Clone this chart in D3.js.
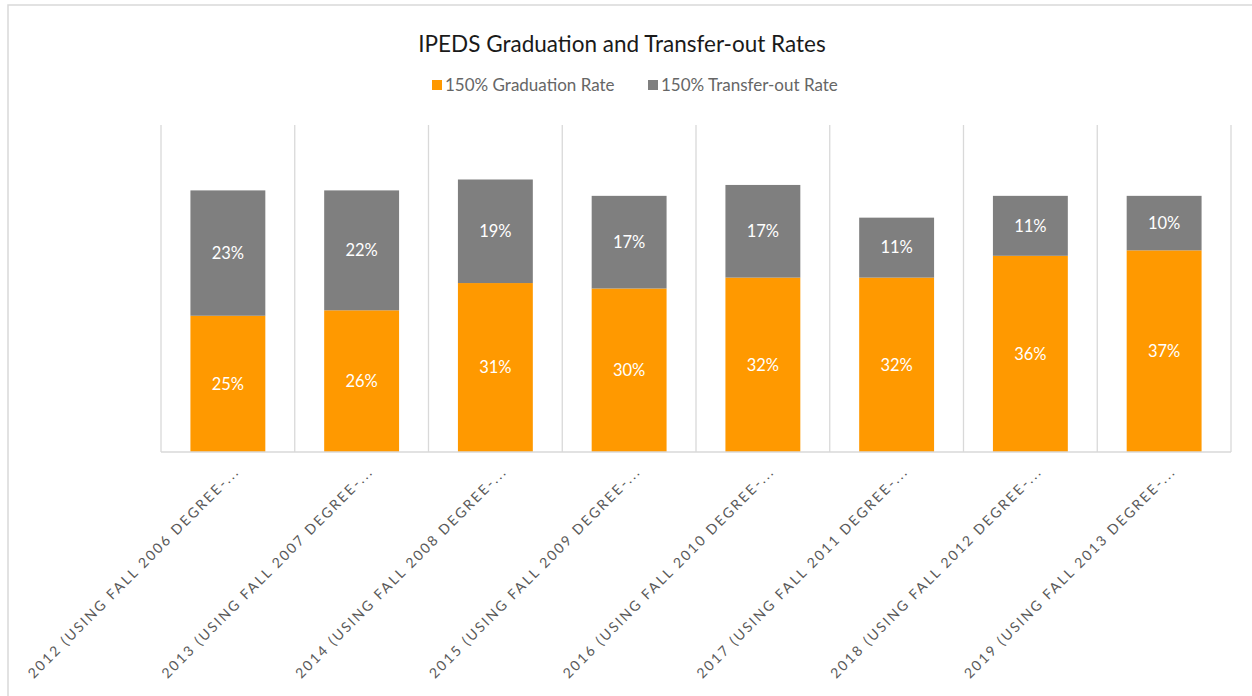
<!DOCTYPE html>
<html>
<head>
<meta charset="utf-8">
<script src="https://cdn.jsdelivr.net/npm/d3@7"></script>
<style>
  body { margin: 0; background: white; }
  svg { display: block; font-family: Lato, "Open Sans", sans-serif; }
</style>
</head>
<body>
<div id="chart"></div>
<script>
// category labels as shown (truncated by the original chart)
let categories = [
  "2012 (USING FALL 2006 DEGREE-...",
  "2013 (USING FALL 2007 DEGREE-...",
  "2014 (USING FALL 2008 DEGREE-...",
  "2015 (USING FALL 2009 DEGREE-...",
  "2016 (USING FALL 2010 DEGREE-...",
  "2017 (USING FALL 2011 DEGREE-...",
  "2018 (USING FALL 2012 DEGREE-...",
  "2019 (USING FALL 2013 DEGREE-..."
];
let gradRate = [0.25, 0.26, 0.31, 0.30, 0.32, 0.32, 0.36, 0.37];
let transferRate = [0.23, 0.22, 0.19, 0.17, 0.17, 0.11, 0.11, 0.10];
let seriesNames = ["150% Graduation Rate", "150% Transfer-out Rate"];
let seriesColors = ["#FF9900", "#7F7F7F"];

let width = 1252, height = 696;
let plot = {left: 161, right: 1231, top: 125, bottom: 452};

let svg = d3.select('#chart').append('svg')
    .attr('width', width)
    .attr('height', height);

// outer chart border
svg.append('rect')
    .attr('x', 8).attr('y', 5)
    .attr('width', width + 20).attr('height', height + 20)
    .attr('fill', 'white')
    .attr('stroke', '#d9d9d9')
    .attr('stroke-width', 1.5);

let x = d3.scaleBand()
    .domain(categories)
    .range([plot.left, plot.right])
    .paddingInner(0.44)
    .paddingOuter(0.22);

let y = d3.scaleLinear()
    .domain([0, 0.6])
    .range([plot.bottom, plot.top]);

// vertical gridlines between categories
let gridX = d3.range(categories.length + 1).map(i => plot.left + i * (plot.right - plot.left) / categories.length);
svg.append('g').selectAll('line')
    .data(gridX)
    .join('line')
    .attr('x1', d => d).attr('x2', d => d)
    .attr('y1', plot.top).attr('y2', plot.bottom)
    .attr('stroke', '#d9d9d9')
    .attr('stroke-width', 1.3);

let stackData = categories.map((c, i) => ({cat: c, grad: gradRate[i], transfer: transferRate[i]}));
let stack = d3.stack().keys(['grad', 'transfer']);
let layers = stack(stackData);

let g = svg.append('g');
layers.forEach(function(layer, li){
    g.append('g').selectAll('rect')
        .data(layer)
        .join('rect')
        .attr('x', d => x(d.data.cat))
        .attr('width', x.bandwidth())
        .attr('y', d => y(d[1]))
        .attr('height', d => y(d[0]) - y(d[1]))
        .attr('fill', seriesColors[li]);

    g.append('g').selectAll('text')
        .data(layer)
        .join('text')
        .attr('x', d => x(d.data.cat) + x.bandwidth() / 2)
        .attr('y', d => (y(d[0]) + y(d[1])) / 2)
        .attr('dy', '0.35em')
        .attr('text-anchor', 'middle')
        .attr('fill', 'white')
        .attr('font-size', 16.5)
        .text(d => Math.round((d[1] - d[0]) * 100) + '%');
});

// category axis
let axis = svg.append('g')
    .attr('transform', `translate(0,${plot.bottom})`)
    .call(d3.axisBottom(x).tickSize(0).tickPadding(0));
axis.select('.domain')
    .attr('d', `M${plot.left},0H${plot.right}`)
    .attr('stroke', '#d9d9d9')
    .attr('stroke-width', 1.3);
axis.selectAll('.tick text')
    .attr('transform', 'translate(9,17) rotate(-45)')
    .attr('text-anchor', 'end')
    .attr('dy', '0.35em')
    .attr('fill', '#595959')
    .attr('font-size', 14)
    .attr('font-family', 'Lato, sans-serif')
    .style('letter-spacing', '2.1px');

// title
svg.append('text')
    .attr('x', 622).attr('y', 52)
    .attr('text-anchor', 'middle')
    .attr('font-size', 22.5)
    .attr('fill', '#1a1a1a')
    .text('IPEDS Graduation and Transfer-out Rates');

// legend
let legendX = [432, 648];
let legend = svg.append('g').selectAll('g')
    .data(seriesNames)
    .join('g')
    .attr('transform', (d, i) => `translate(${legendX[i]},85)`);
legend.append('rect')
    .attr('x', 0).attr('y', -5)
    .attr('width', 10).attr('height', 10)
    .attr('fill', (d, i) => seriesColors[i]);
legend.append('text')
    .attr('x', 13).attr('dy', '0.35em')
    .attr('font-size', 17)
    .attr('fill', '#666666')
    .text(d => d);
</script>
</body>
</html>
